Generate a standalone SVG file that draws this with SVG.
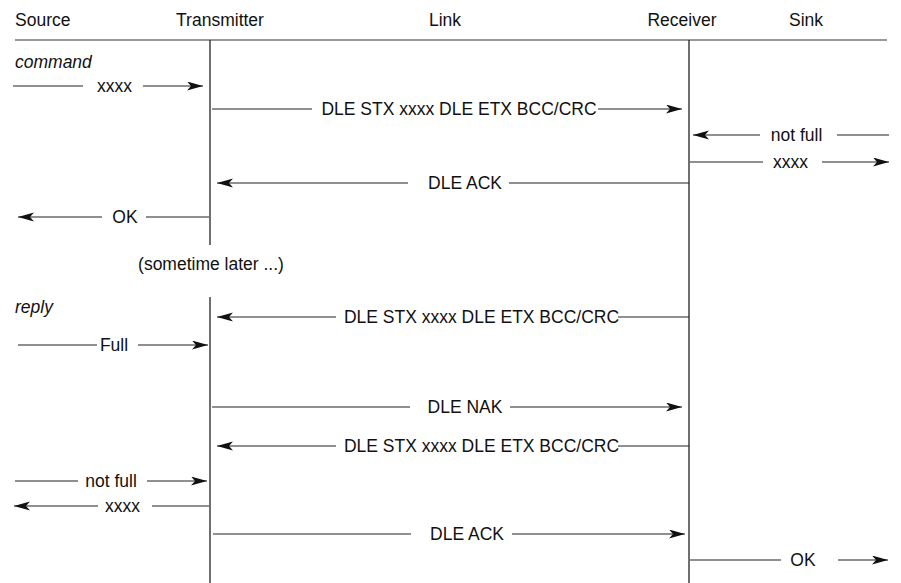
<svg xmlns="http://www.w3.org/2000/svg" width="901" height="583" viewBox="0 0 901 583">
<style>
text{font-family:"Liberation Sans",Arial,sans-serif;font-size:17.5px;fill:#111}
.c{text-anchor:middle}
.i{font-style:italic}
.life{stroke:#222;stroke-width:1.3;fill:none}
.hdr{stroke:#777;stroke-width:1.3}
.m line{stroke:#222;stroke-width:1.1}
.a{marker-end:url(#ah)}
</style>
<defs>
<marker id="ah" markerUnits="userSpaceOnUse" markerWidth="17" markerHeight="10" refX="16" refY="4.5" orient="auto" viewBox="0 0 17 10">
<path d="M0,0 L16,4.5 L0,9 L4,4.5 z" fill="#111"/>
</marker>
</defs>
<rect width="901" height="583" fill="#fff"/>
<line class="hdr" x1="15" y1="40" x2="887" y2="40"/>
<g id="source"><text x="15" y="26">Source</text></g>
<g id="transmitter"><text class="c" x="220" y="26">Transmitter</text>
<line class="life" x1="210" y1="40" x2="210" y2="245"/>
<line class="life" x1="210" y1="297" x2="210" y2="583"/></g>
<g id="link"><text class="c" x="445" y="26">Link</text></g>
<g id="receiver"><text class="c" x="682" y="26">Receiver</text>
<line class="life" x1="689" y1="40" x2="689" y2="583"/></g>
<g id="sink"><text class="c" x="806" y="26">Sink</text></g>
<g id="notes">
<text class="i" x="15" y="68">command</text>
<text class="c" x="211" y="270">(sometime later ...)</text>
<text class="i" x="15" y="313">reply</text>
</g>
<g id="connectors" class="m">
<line x1="13" y1="86" x2="83" y2="86"/><text class="c" x="114.5" y="92">xxxx</text><line class="a" x1="143" y1="86" x2="203" y2="86"/>
<line x1="212" y1="109" x2="312" y2="109"/><text class="c" x="459" y="115">DLE STX xxxx DLE ETX BCC/CRC</text><line class="a" x1="598" y1="109" x2="682" y2="109"/>
<line class="a" x1="760" y1="135" x2="693" y2="135"/><text class="c" x="796.5" y="141">not full</text><line x1="837" y1="135" x2="889" y2="135"/>
<line x1="690" y1="162" x2="763" y2="162"/><text class="c" x="790.5" y="168">xxxx</text><line class="a" x1="822" y1="162" x2="889" y2="162"/>
<line class="a" x1="408" y1="183" x2="217" y2="183"/><text class="c" x="465" y="189">DLE ACK</text><line x1="509" y1="183" x2="689" y2="183"/>
<line class="a" x1="102" y1="217" x2="18" y2="217"/><text class="c" x="125" y="223">OK</text><line x1="146" y1="217" x2="209" y2="217"/>
<line class="a" x1="336" y1="317" x2="217" y2="317"/><text class="c" x="481.5" y="323">DLE STX xxxx DLE ETX BCC/CRC</text><line x1="618" y1="317" x2="689" y2="317"/>
<line x1="18" y1="345" x2="97" y2="345"/><text class="c" x="114" y="351">Full</text><line class="a" x1="138" y1="345" x2="208" y2="345"/>
<line x1="212" y1="407" x2="410" y2="407"/><text class="c" x="465" y="413">DLE NAK</text><line class="a" x1="510" y1="407" x2="682" y2="407"/>
<line class="a" x1="336" y1="446" x2="217" y2="446"/><text class="c" x="481.5" y="452">DLE STX xxxx DLE ETX BCC/CRC</text><line x1="618" y1="446" x2="689" y2="446"/>
<line x1="15" y1="481" x2="78" y2="481"/><text class="c" x="111" y="487">not full</text><line class="a" x1="147" y1="481" x2="207" y2="481"/>
<line class="a" x1="98" y1="506" x2="14" y2="506"/><text class="c" x="122.5" y="512">xxxx</text><line x1="152" y1="506" x2="209" y2="506"/>
<line x1="213" y1="534" x2="411" y2="534"/><text class="c" x="467" y="540">DLE ACK</text><line class="a" x1="512" y1="534" x2="685" y2="534"/>
<line x1="690" y1="560" x2="781" y2="560"/><text class="c" x="803" y="566">OK</text><line class="a" x1="838" y1="560" x2="888" y2="560"/>
</g>
</svg>
